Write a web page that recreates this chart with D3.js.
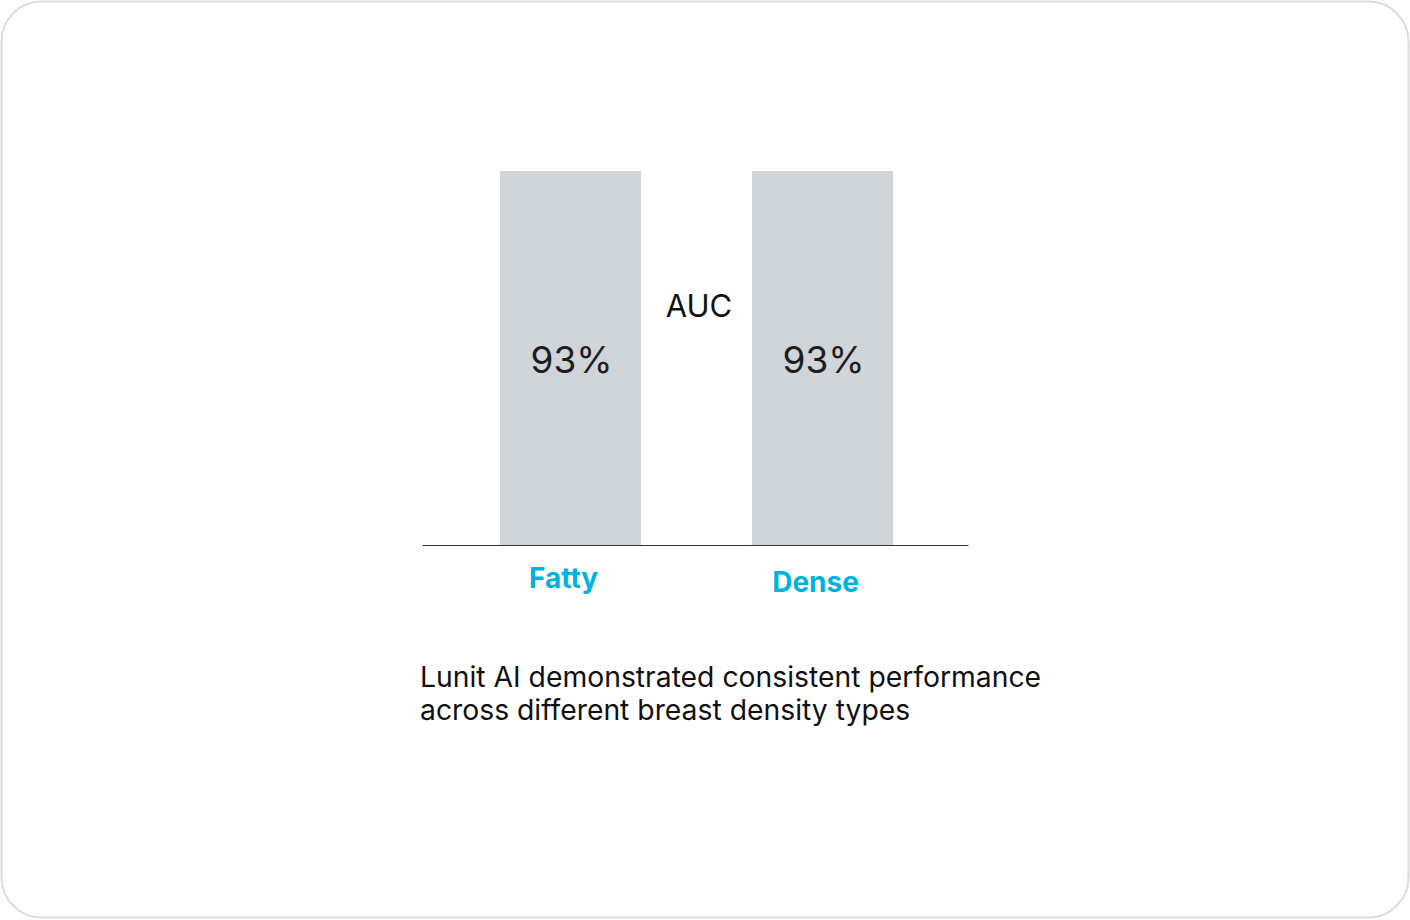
<!DOCTYPE html>
<html>
<head>
<meta charset="utf-8">
<script src="https://cdn.jsdelivr.net/npm/d3@7"></script>
<style>
  html, body { margin: 0; padding: 0; background: #fff; }
  svg { display: block; font-family: Inter, "Noto Sans", sans-serif; }
</style>
</head>
<body>
<svg width="1410" height="920"></svg>
<script>
const categories = ['Fatty', 'Dense'];
const aucValues = [93, 93];
const valueLabels = ['93%', '93%'];
const caption = ['Lunit AI demonstrated consistent performance', 'across different breast density types'];

const svg = d3.select('svg');

// card frame
svg.append('rect')
  .attr('x', 1.5).attr('y', 1.5)
  .attr('width', 1407).attr('height', 916)
  .attr('rx', 40).attr('ry', 40)
  .attr('fill', '#fff')
  .attr('stroke', '#dcdcdc')
  .attr('stroke-width', 2);

// scales
const xScale = d3.scaleBand()
  .domain(categories)
  .range([422, 968])
  .paddingInner(0.44)
  .paddingOuter(0.3034)
  .align(0.51);

const yScale = d3.scaleLinear().domain([0, 93]).range([545, 171]);

const data = categories.map((c, i) => ({ cat: c, value: aucValues[i], label: valueLabels[i] }));

// bars
svg.selectAll('.bar')
  .data(data)
  .enter()
  .append('rect')
  .classed('bar', true)
  .attr('x', d => xScale(d.cat))
  .attr('y', d => yScale(d.value))
  .attr('width', xScale.bandwidth())
  .attr('height', d => yScale(0) - yScale(d.value))
  .attr('fill', '#d0d5d9');

// value labels inside bars
svg.selectAll('.val')
  .data(data)
  .enter()
  .append('text')
  .attr('x', d => xScale(d.cat) + xScale.bandwidth() / 2 + 1)
  .attr('y', 373)
  .attr('text-anchor', 'middle')
  .attr('font-size', 37)
  .attr('fill', '#1e1e1e')
  .text(d => d.label);

// axis baseline
const xAxis = d3.axisBottom(xScale).tickSize(0).tickPadding(0).tickFormat('');
const axisG = svg.append('g').attr('transform', `translate(0,${yScale(0)})`).call(xAxis);
axisG.select('.domain').attr('stroke', '#333').attr('stroke-width', 1.2);

// category labels
svg.selectAll('.cat')
  .data(data)
  .enter()
  .append('text')
  .attr('x', d => xScale(d.cat) + xScale.bandwidth() / 2 - 7)
  .attr('y', (d, i) => 588 + i * 4)
  .attr('text-anchor', 'middle')
  .attr('font-size', 28)
  .attr('font-weight', 700)
  .attr('fill', '#00b2dd')
  .text(d => d.cat);

// AUC label between bars
svg.append('text')
  .attr('x', 699)
  .attr('y', 317)
  .attr('text-anchor', 'middle')
  .attr('font-size', 31)
  .attr('fill', '#111')
  .text('AUC');

// caption
svg.append('text')
  .attr('x', 420)
  .attr('y', 687)
  .attr('font-size', 28.3)
  .attr('fill', '#111')
  .selectAll('tspan')
  .data(caption)
  .enter()
  .append('tspan')
  .attr('x', 420)
  .attr('dy', (d, i) => i === 0 ? 0 : 33)
  .text(d => d);
</script>
</body>
</html>
